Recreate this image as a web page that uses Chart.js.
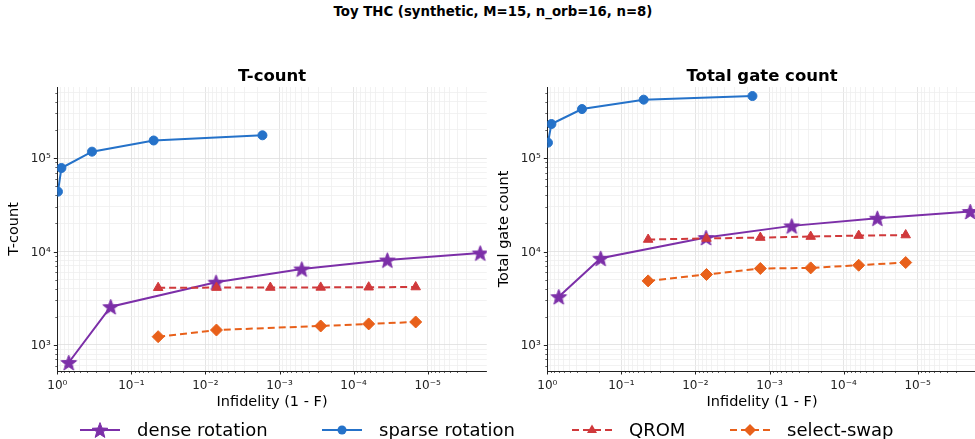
<!DOCTYPE html>
<html><head><meta charset="utf-8">
<script src="https://cdn.jsdelivr.net/npm/chart.js@4/dist/chart.umd.min.js"></script>
<style>
html,body{margin:0;padding:0;width:975px;height:439px;overflow:hidden;background:#fff;font-family:"DejaVu Sans",sans-serif;}
#sup{position:absolute;left:0;width:986px;top:4px;line-height:16px;text-align:center;font-weight:bold;font-size:13.3px;color:#000;}
.cw{position:absolute;top:0;width:496px;height:439px;}
.lg{position:absolute;top:419px;height:22px;}
.lg svg{position:absolute;left:0;top:1px;}
.lg span{position:absolute;left:57px;top:0;line-height:22px;font-size:18px;color:#000;white-space:nowrap;}
</style></head>
<body>
<div id="sup">Toy THC (synthetic, M=15, n_orb=16, n=8)</div>
<div class="cw" style="left:0"><canvas id="c1" width="496" height="439"></canvas></div>
<div class="cw" style="left:490px"><canvas id="c2" width="496" height="439"></canvas></div>
<div id="legend"></div>
<script>
// ---- data ----
const seriesNames = ['dense rotation', 'sparse rotation', 'QROM', 'select-swap'];
const xDense  = [0.70, 0.19, 7.2e-3, 5.0e-4, 3.5e-5, 1.95e-6];
const tDense  = [650, 2570, 4690, 6500, 8110, 9650];
const gDense  = [3290, 8460, 14100, 18800, 22700, 26800];
const xSparse = [0.98, 0.88, 0.34, 0.05, 1.7e-3];
const tSparse = [43700, 78200, 117000, 154000, 175000];
const gSparse = [146000, 231000, 334000, 421000, 460000];
const xQrom   = [0.0435, 7.1e-3, 1.33e-3, 2.78e-4, 6.25e-5, 1.45e-5];
const tQrom   = [4100, 4110, 4120, 4130, 4150, 4170];
const gQrom   = [13440, 13780, 14100, 14450, 14800, 15000];
const xSwap   = [0.0435, 7.1e-3, 1.33e-3, 2.78e-4, 6.25e-5, 1.45e-5];
const tSwap   = [1227, 1446, null, 1597, 1680, 1763];
const gSwap   = [4850, 5680, 6580, 6680, 7130, 7620];
const xRange = [1.59e-6, 1.0];
const yRange = [527, 575000];
const panelTitles = ['T-count', 'Total gate count'];
const yTitles = ['T-count', 'Total gate count'];
const xTitle = 'Infidelity (1 - F)';

const COLORS = {dense:'#7c2fa8', sparse:'#2572c9', qrom:'#d0393b', swap:'#e8601a'};
const FONT = '"DejaVu Sans", sans-serif';

function starPts(cx, cy, R, r){
  const p=[];
  for(let i=0;i<10;i++){
    const a=-Math.PI/2 + i*Math.PI/5;
    const rr = i%2===0 ? R : r;
    p.push([cx+rr*Math.cos(a), cy+rr*Math.sin(a)]);
  }
  return p;
}
function starCanvas(color, R){
  const s=Math.ceil(2*R+2);
  const c=document.createElement('canvas'); c.width=s; c.height=s;
  const ctx=c.getContext('2d');
  const p=starPts(s/2, s/2+R*0.1, R, R*0.42);
  ctx.beginPath(); p.forEach((q,i)=> i?ctx.lineTo(q[0],q[1]):ctx.moveTo(q[0],q[1])); ctx.closePath();
  ctx.fillStyle=color; ctx.fill(); ctx.strokeStyle=color; ctx.lineWidth=1; ctx.stroke();
  return c;
}
const starImg = starCanvas(COLORS.dense, 8.2);

function pts(xs, ys){ return xs.map((x,i)=>({x:x, y:ys[i]})); }
function isPow10(v){ const l=Math.log10(v); return Math.abs(l-Math.round(l))<1e-6; }
function isNice(v){ const e=Math.floor(Math.log10(v)+1e-9); const m=v/Math.pow(10,e); return Math.abs(m-Math.round(m))<1e-4; }
const SUP={'0':'⁰','1':'¹','2':'²','3':'³','4':'⁴','5':'⁵','6':'⁶','7':'⁷','8':'⁸','9':'⁹','-':'⁻'};
function powLabel(v){ if(!isPow10(v)) return ''; const e=String(Math.round(Math.log10(v))); return '10'+e.split('').map(ch=>SUP[ch]).join(''); }

const tickPlugin = {
  id:'mplTicks',
  afterDraw(chart){
    const ctx=chart.ctx, a=chart.chartArea;
    ctx.save(); ctx.strokeStyle='#222';
    ['x','y'].forEach(id=>{
      const sc=chart.scales[id];
      sc.ticks.forEach(t=>{
        if(!isNice(t.value)) return;
        const major=isPow10(t.value);
        const len= major?3.5:2; ctx.lineWidth= major?1:0.7;
        const p=sc.getPixelForValue(t.value);
        ctx.beginPath();
        if(id==='x'){ const px=Math.round(p)+0.5; ctx.moveTo(px,a.bottom); ctx.lineTo(px,a.bottom+len); }
        else { const py=Math.round(p)+0.5; ctx.moveTo(a.left,py); ctx.lineTo(a.left-len,py); }
        ctx.stroke();
      });
    });
    ctx.restore();
  }
};

function gridColor(ctx){
  if(!ctx.tick) return 'rgba(0,0,0,0)';
  const v=ctx.tick.value;
  if(!isNice(v)) return 'rgba(0,0,0,0)';
  return isPow10(v) ? '#dedede' : '#efefef';
}

function makeChart(id, idx, yG){
  const dsets = [
    {label:seriesNames[0], data:pts(xDense, yG.dense), borderColor:COLORS.dense,
     pointStyle:starImg, pointRadius:8.2, borderWidth:2, order:4},
    {label:seriesNames[1], data:pts(xSparse, yG.sparse), borderColor:COLORS.sparse,
     pointStyle:'circle', pointRadius:4.5, borderWidth:2, order:3},
    {label:seriesNames[2], data:pts(xQrom, yG.qrom), borderColor:COLORS.qrom,
     pointStyle:'triangle', pointRadius:5.5, borderWidth:2, borderDash:[7,4], order:2},
    {label:seriesNames[3], data:pts(xSwap, yG.swap), borderColor:COLORS.swap,
     pointStyle:'rectRot', pointRadius:6, borderWidth:2, borderDash:[7,4], order:1}
  ];
  dsets.forEach(d=>{ d.backgroundColor=d.borderColor; d.pointBorderWidth=1; d.pointBorderColor=d.borderColor; d.pointBackgroundColor=d.borderColor; d.tension=0; d.fill=false; d.spanGaps=true; d.pointHoverRadius=d.pointRadius; });
  return new Chart(document.getElementById(id), {
    type:'line',
    data:{datasets:dsets},
    options:{
      responsive:false, animation:false, devicePixelRatio:1,
      layout:{padding:{left:0,right:0,top:60,bottom:28}},
      plugins:{
        legend:{display:false}, tooltip:{enabled:false},
        title:{display:true, fullSize:false, text:panelTitles[idx], color:'#000', font:{family:FONT,size:16.5,weight:'bold'}, padding:{top:7.2,bottom:0}}
      },
      scales:{
        x:{type:'logarithmic', reverse:true, min:xRange[0], max:xRange[1],
           afterFit(s){ s.height=40; },
           grid:{color:gridColor, lineWidth:0.8, drawTicks:false},
           border:{display:true,color:'#222',width:1},
           ticks:{autoSkip:false, maxRotation:0, minRotation:0, padding:8, color:'#222', font:{family:FONT,size:12}, callback:(v)=>powLabel(v)},
           title:{display:true, text:xTitle, color:'#000', font:{family:FONT,size:14.5}, padding:{top:0,bottom:0}}},
        y:{type:'logarithmic', min:yRange[0], max:yRange[1],
           afterFit(s){ s.width=57.3; },
           grid:{color:gridColor, lineWidth:0.8, drawTicks:false},
           border:{display:true,color:'#222',width:1},
           ticks:{autoSkip:false, padding:6.5, labelOffset:1, color:'#222', font:{family:FONT,size:12}, callback:(v)=>powLabel(v)},
           title:{display:true, text:yTitles[idx], color:'#000', font:{family:FONT,size:14.5}, padding:{top:6,bottom:0}}}
      }
    },
    plugins:[tickPlugin]
  });
}
makeChart('c1', 0, {dense:tDense, sparse:tSparse, qrom:tQrom, swap:tSwap});
makeChart('c2', 1, {dense:gDense, sparse:gSparse, qrom:gQrom, swap:gSwap});

// ---- legend (HTML) ----
function legendItem(left, name, color, marker, dashed){
  let m='';
  if(marker==='star'){ m='<polygon fill="'+color+'" stroke="'+color+'" points="'+starPts(20,10.8,8.2,3.45).map(p=>p[0].toFixed(2)+','+p[1].toFixed(2)).join(' ')+'"/>'; }
  else if(marker==='circle'){ m='<circle cx="20" cy="10" r="4.5" fill="'+color+'"/>'; }
  else if(marker==='triangle'){ m='<polygon fill="'+color+'" points="20,4.5 25,13 15,13"/>'; }
  else { m='<polygon fill="'+color+'" points="20,4 26,10 20,16 14,10"/>'; }
  const dash = dashed ? ' stroke-dasharray="7,4"' : '';
  return '<div class="lg" style="left:'+left+'px"><svg width="40" height="20"><line x1="0" y1="10" x2="40" y2="10" stroke="'+color+'" stroke-width="2"'+dash+'/>'+m+'</svg><span>'+name+'</span></div>';
}
document.getElementById('legend').innerHTML =
  legendItem(80, seriesNames[0], COLORS.dense, 'star', false) +
  legendItem(322, seriesNames[1], COLORS.sparse, 'circle', false) +
  legendItem(572, seriesNames[2], COLORS.qrom, 'triangle', true) +
  legendItem(730, seriesNames[3], COLORS.swap, 'diamond', true);
</script>
</body></html>
